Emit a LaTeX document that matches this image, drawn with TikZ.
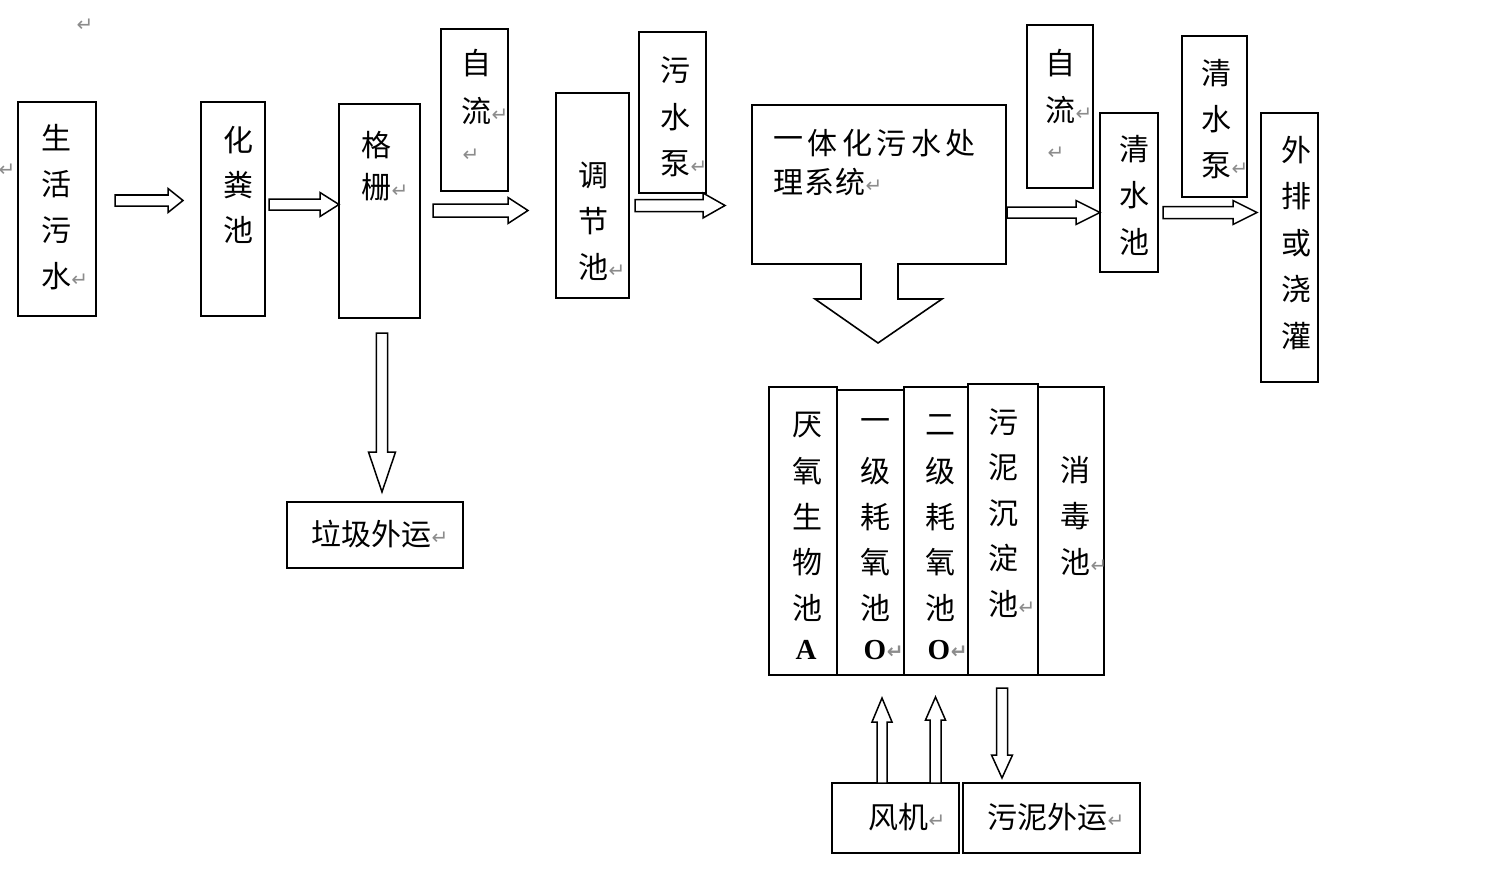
\documentclass[tikz,border=0pt]{standalone}
\usepackage{fontspec}
\setmainfont{Liberation Serif}
\newfontfamily\cjk{Noto Sans CJK SC}
\newfontfamily\dvs{DejaVu Sans}
\usetikzlibrary{fit}
\newcommand\ret{\rlap{\hspace{0.5pt}\raisebox{1pt}{\dvs\fontsize{20}{20}\selectfont\color{black!45}↵}}}
\newcommand\hblk[6]{\draw[blk] ({#1},{#3-#4}) -- ({#2-#6},{#3-#4}) -- ({#2-#6},{#3-#5}) -- ({#2},{#3}) -- ({#2-#6},{#3+#5}) -- ({#2-#6},{#3+#4}) -- ({#1},{#3+#4}) -- cycle;}
\newcommand\vblk[6]{\draw[blk] ({#1-#4},{#2}) -- ({#1-#4},{#3-(#6)}) -- ({#1-#5},{#3-(#6)}) -- ({#1},{#3}) -- ({#1+#5},{#3-(#6)}) -- ({#1+#4},{#3-(#6)}) -- ({#1+#4},{#2}) -- cycle;}
\newcommand\vtxt[5]{\foreach \vch [count=\vn] in {#5} \node[ch] (#1-\vn) at ({#2},{#3+(\vn-1)*#4}) {\vch};}
\begin{document}
\begin{tikzpicture}[x=1pt,y=-1pt,
  ch/.style={font=\cjk\fontsize{30}{30}\selectfont, inner sep=0pt},
  lat/.style={font=\rmfamily\bfseries\fontsize{29}{29}\selectfont, inner sep=0pt},
  rt/.style={font=\dvs\fontsize{20}{20}\selectfont, text=black!45, inner sep=0pt},
  box/.style={draw, line width=1.6pt, inner sep=0pt},
  blk/.style={draw, line width=1.5pt, fill=white, line join=miter}]
\useasboundingbox[fill=white] (0,0) rectangle (1500,888);

% stray paragraph marks
\node[rt] (m1) at (85,25) {↵};
\node[rt] (m2) at (7,170) {↵};

% top row boxes
\node[box, fit={(18,102) (96,316)}] (shws) {};
\vtxt{shwst}{56}{138}{46}{生,活,污,{水\ret}}
\node[box, fit={(201,102) (265,316)}] (hfc) {};
\vtxt{hfct}{238}{140}{45}{化,粪,池}
\node[box, fit={(339,104) (420,318)}] (gs) {};
\vtxt{gst}{376}{145}{42}{格,{栅\ret}}
\node[box, fit={(441,29) (508,191)}] (zl1) {};
\vtxt{zl1t}{476}{63}{48}{自,{流\ret}}
\node[rt] (zl1r) at (471,155) {↵};
\node[box, fit={(556,93) (629,298)}] (tjc) {};
\vtxt{tjct}{593}{175}{46}{调,节,{池\ret}}
\node[box, fit={(639,32) (706,193)}] (wsb) {};
\vtxt{wsbt}{675}{70}{47}{污,水,{泵\ret}}

% integrated system box with block arrow
\node[fit={(752,105) (1006,264)}, inner sep=0pt] (sys) {};
\draw[line width=1.6pt, line join=miter] (752,105) -- (1006,105) -- (1006,264) -- (898,264) -- (898,299) -- (942,299) -- (878,343) -- (815,299) -- (861,299) -- (861,264) -- (752,264) -- cycle;
\foreach \vch [count=\vn] in {一,体,化,污,水,处}
  \node[ch] (sysa-\vn) at ({788+(\vn-1)*34.5},143) {\vch};
\foreach \vch [count=\vn] in {理,系,{统\ret}}
  \node[ch] (sysb-\vn) at ({788+(\vn-1)*31},182) {\vch};

\node[box, fit={(1027,25) (1093,188)}] (zl2) {};
\vtxt{zl2t}{1060}{63}{47}{自,{流\ret}}
\node[rt] (zl2r) at (1056,153) {↵};
\node[box, fit={(1100,113) (1158,272)}] (qsc) {};
\vtxt{qsct}{1134}{149}{46.5}{清,水,池}
\node[box, fit={(1182,36) (1247,197)}] (qsb) {};
\vtxt{qsbt}{1216}{73}{46.5}{清,水,{泵\ret}}
\node[box, fit={(1261,113) (1318,382)}] (wpg) {};
\vtxt{wpgt}{1296}{150}{46.5}{外,排,或,浇,灌}

% refuse removal
\node[box, fit={(287,502) (463,568)}] (ljwy) {};
\node[ch] (ljwyt) at (371,534) {垃圾外运\ret};

% bottom tanks
\node[box, fit={(769,387) (837,675)}] (yy) {};
\vtxt{yyt}{807}{425}{45.8}{厌,氧,生,物,池}
\node[lat] (yya) at (806,650) {A};
\node[box, fit={(837,390) (904,675)}] (yj) {};
\vtxt{yjt}{875}{425}{45.8}{一,级,耗,氧,池}
\node[lat] (yjo) at (875,650) {O\ret};
\node[box, fit={(904,387) (968,675)}] (ej) {};
\vtxt{ejt}{940}{425}{45.8}{二,级,耗,氧,池}
\node[lat] (ejo) at (939,650) {O\ret};
\node[box, fit={(968,384) (1038,675)}] (wn) {};
\vtxt{wnt}{1003}{422}{45.5}{污,泥,沉,淀,{池\ret}}
\node[box, fit={(1038,387) (1104,675)}] (xd) {};
\vtxt{xdt}{1075}{470}{46}{消,毒,{池\ret}}

\node[box, fit={(832,783) (959,853)}] (fj) {};
\node[ch] (fjt) at (898,817) {风机\ret};
\node[box, fit={(963,783) (1140,853)}] (wnwy) {};
\node[ch] (wnwyt) at (1047,817) {污泥外运\ret};

% block arrows
\hblk{115}{183}{200.5}{5.5}{12}{15}
\hblk{269}{339}{204.5}{5.5}{12}{19}
\hblk{433}{528}{210.5}{6.5}{13}{20}
\hblk{635}{725}{205.5}{6}{12.5}{22}
\hblk{1007}{1100}{212.5}{5.5}{12}{24}
\hblk{1163}{1257}{212.5}{6}{12}{24}
\vblk{382}{333}{492}{5.7}{13.5}{40}
\vblk{882}{783}{698}{5}{10}{-24}
\vblk{935.5}{783}{697}{5.5}{10}{-23}
\vblk{1002}{688}{778}{5.5}{10.5}{23}
\end{tikzpicture}
\end{document}
